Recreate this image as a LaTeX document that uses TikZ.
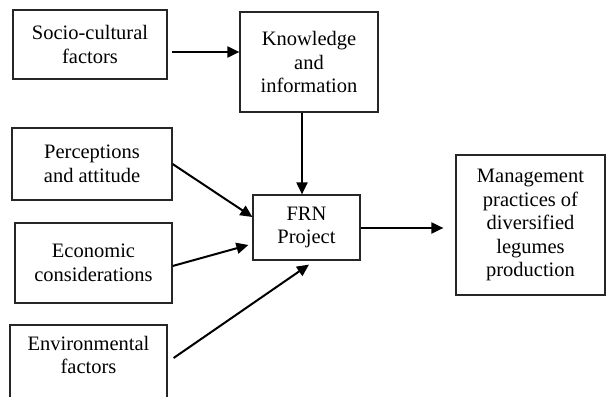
\documentclass[tikz,border=0pt]{standalone}
\usepackage{fontspec}
\setmainfont{Liberation Serif}
\usepackage{tikz}
\usetikzlibrary{arrows.meta,positioning,calc}

\begin{document}
\begin{tikzpicture}[
        x=1pt, y=-1pt,
        every node/.style={font=\fontsize{20.5}{23.5}\selectfont},
        box/.style={rectangle, draw=black!85, line width=1.2pt, align=center, inner sep=2pt},
        arr/.style={-{Triangle[length=12pt,width=11pt]}, line width=2pt}
    ]
        \useasboundingbox (0,0) rectangle (610,396);
        \clip (0,0) rectangle (610,396);

        % Left column: factors
        \node[box, minimum width=154pt, minimum height=69pt] (socio) at (90,44.5) {Socio-cultural\\factors};
        \node[box, minimum width=160pt, minimum height=72pt] (perc) at (92,164) {Perceptions\\and attitude};
        \node[box, minimum width=157pt, minimum height=80pt] (econ) at (93.5,263) {Economic\\considerations};
        \node[box, minimum width=157pt, minimum height=90pt] (env) at (88.5,370) {Environmental\\factors\\\strut};

        % Middle: knowledge and project
        \node[box, minimum width=138pt, minimum height=100pt] (know) at (309,62) {Knowledge\\and\\information};
        \node[box, minimum width=107pt, minimum height=65pt] (frn) at (306.5,227.5) {FRN\\Project};

        % Right: outcome
        \node[box, minimum width=149pt, minimum height=140pt] (mgmt) at (530.5,225) {Management\\practices of\\diversified\\legumes\\production};

        % Arrows
        \draw[arr] ([xshift=4pt,yshift=-7.5pt]socio.east) -- ([yshift=-7.5pt]socio.east -| know.west);
        \draw[arr] ([xshift=-7pt]know.south) -- ([xshift=-7pt]know.south |- frn.north);
        \draw[arr] (perc.east) -- ([yshift=10.5pt]frn.west);
        \draw[arr] ([yshift=-3pt]econ.east) -- ([xshift=-4pt,yshift=-17.5pt]frn.west);
        \draw[arr] ([xshift=6pt,yshift=12pt]env.east) -- ([xshift=2.5pt,yshift=-4pt]frn.south);
        \draw[arr] ([yshift=-0.5pt]frn.east) -- ($(mgmt.west |- frn.east)+(-12,0.5)$);
    \end{tikzpicture}
\end{document}
